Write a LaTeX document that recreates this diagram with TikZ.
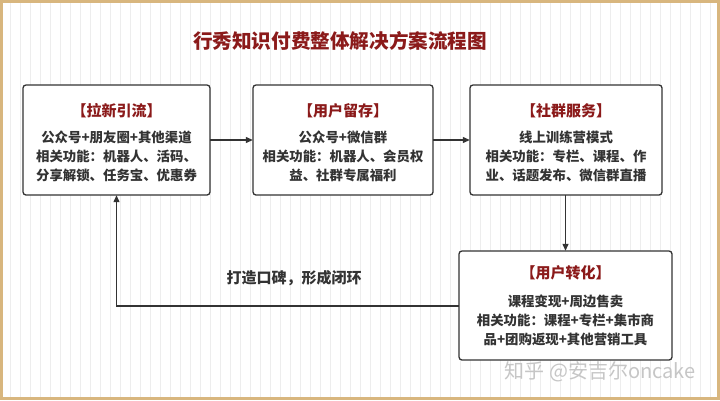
\documentclass[tikz,border=0pt]{standalone}
\usepackage{fontspec}
\setmainfont{Noto Sans CJK SC}
\usetikzlibrary{arrows.meta}
\definecolor{darkred}{HTML}{8B1A1A}
\definecolor{txt}{HTML}{333333}
\definecolor{frame}{HTML}{D8B67E}
\definecolor{gridc}{HTML}{EDEDED}
\begin{document}
\begin{tikzpicture}[x=1pt,y=-1pt,
  box/.style={draw=txt,line width=1.3pt,rounded corners=3pt,fill=white},
  boxtitle/.style={font=\fontsize{15}{17}\selectfont\bfseries,text=darkred},
  boxbody/.style={font=\fontsize{13.4}{19}\selectfont\bfseries,text=txt,align=center},
  conn/.style={draw=txt,line width=1.2pt,-{Triangle[length=7pt,width=6pt]}}]
\useasboundingbox (0,0) rectangle (720,400);
\fill[white] (0,0) rectangle (720,400);
\draw[gridc,line width=0.4pt,step=10] (3,3) grid (717,397);
\draw[frame,line width=3pt] (1.5,1.5) rectangle (718.5,398.5);
\node[font=\fontsize{19.6}{22}\selectfont\bfseries,text=darkred] (title) at (340,41) {行秀知识付费整体解决方案流程图};
% boxes
\path[box] (23,85) rectangle (210,195);
\path[box] (253,85) rectangle (433,195);
\path[box] (470,85) rectangle (662,195);
\path[box] (459,251) rectangle (672,360);
\node[inner sep=0] (b1) at (116.5,140) [minimum width=187pt,minimum height=110pt] {};
\node[inner sep=0] (b2) at (343,140) [minimum width=180pt,minimum height=110pt] {};
\node[inner sep=0] (b3) at (566,140) [minimum width=192pt,minimum height=110pt] {};
\node[inner sep=0] (b4) at (565.5,305.5) [minimum width=213pt,minimum height=109pt] {};
\node[boxtitle] (t1) at (116.5,111) {【拉新引流】};
\node[boxbody] (d1) at (116.5,156) {公众号+朋友圈+其他渠道\\相关功能：机器人、活码、\\分享解锁、任务宝、优惠券};
\node[boxtitle] (t2) at (343,111) {【用户留存】};
\node[boxbody] (d2) at (343,156) {公众号+微信群\\相关功能：机器人、会员权\\益、社群专属福利};
\node[boxtitle] (t3) at (566,111) {【社群服务】};
\node[boxbody] (d3) at (566,156) {线上训练营模式\\相关功能：专栏、课程、作\\业、话题发布、微信群直播};
\node[boxtitle] (t4) at (565.5,273) {【用户转化】};
\node[boxbody] (d4) at (565.5,320) {课程变现+周边售卖\\相关功能：课程+专栏+集市商\\品+团购返现+其他营销工具};
% connectors
\draw[conn] (b1.east) -- (b2.west);
\draw[conn] (b2.east) -- (b3.west);
\draw[conn] (b3.south -| 565.5,0) -- (b4.north);
\coordinate (c1) at (116.5,306);
\draw[conn] (b4.west |- c1) -- (c1) -- (b1.south);
\node[font=\fontsize{15}{17}\selectfont\bfseries,text=txt] (loop) at (294,278) {打造口碑，形成闭环};
\node[font=\fontsize{20}{22}\selectfont,text=gray!45] (wm) at (600,372) {知乎 @安吉尔oncake};
\end{tikzpicture}
\end{document}
